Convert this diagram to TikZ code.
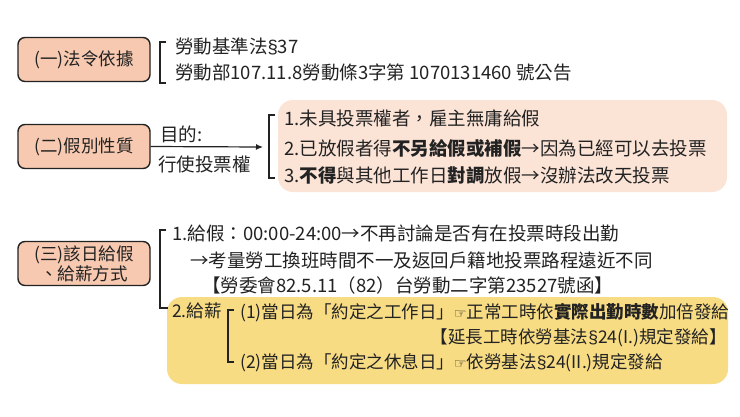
\documentclass[tikz,border=0pt]{standalone}
\usepackage{fontspec}
\setmainfont{Noto Sans CJK TC}
\newfontfamily\symfont{DejaVu Sans}
\newfontfamily\latinfont{Liberation Sans}
\usetikzlibrary{arrows.meta}
\newcommand{\hand}{{\symfont\fontsize{14}{16}\selectfont ☞}}
\newcommand{\sect}{{\latinfont §}}
\begin{document}
\begin{tikzpicture}[x=1pt,y=-1pt,
    txt/.style={anchor=west,inner sep=0pt,text=kText,font=\fontsize{18.5}{21}\selectfont},
    small/.style={txt,font=\fontsize{17.5}{20}\selectfont},
    head/.style={draw=kText,line width=1.4pt,fill=kSalmon,rounded corners=7pt,
      minimum width=132pt,minimum height=44pt,inner sep=0pt,align=center,
      text=kText,font=\fontsize{17.5}{20}\selectfont},
    brk/.style={draw=kText,line width=1.6pt}]
  \definecolor{kText}{HTML}{222222}
  \definecolor{kSalmon}{HTML}{F7C9B0}
  \definecolor{kPale}{HTML}{FBE3D6}
  \definecolor{kYellow}{HTML}{F8DC84}

  \useasboundingbox[fill=white] (0,0) rectangle (740,416);

  % backgrounds
  \fill[kPale,rounded corners=15pt] (278,100) rectangle (727,192);
  \fill[kYellow,rounded corners=15pt] (167,297) rectangle (728,384);

  % headings
  \node[head] (law) at (84,59.5) {(一)法令依據};
  \node[head] (kind) at (84,146.5) {(二)假別性質};
  \node[head] (pay) at (84,263.5) {(三)該日給假\\、給薪方式};

  % (一)
  \draw[brk] (166,42) -- (160,42) -- (160,83) -- (166,83);
  \node[txt] (law1) at (175,46) {勞動基準法\sect37};
  \node[txt] (law2) at (175,72) {勞動部107.11.8勞動條3字第 1070131460 號公告};

  % (二)
  \coordinate (aim) at (263,147);
  \draw[kText,line width=1.2pt,-{Latex[length=7pt,width=6pt]}] (kind.east) -- (aim);
  \node[txt] (aim1) at (160,134) {目的:};
  \node[txt] (aim2) at (158,164) {行使投票權};
  \draw[brk] (275,115) -- (269,115) -- (269,178) -- (275,178);
  \foreach \n/\y/\t in {
      k1/118/{1.未具投票權者，雇主無庸給假},
      k2/148/{2.已放假者得\textbf{不另給假或補假}→因為已經可以去投票},
      k3/176/{3.\textbf{不得}與其他工作日\textbf{對調}放假→沒辦法改天投票}
    }
  {
    \node[txt] (\n) at (284,\y) {\t};
  }

  % (三)
  \draw[brk] (166,230) -- (160,230) -- (160,308) -- (168,308);
  \node[txt] (p1) at (172,233) {1.給假：00:00-24:00→不再討論是否有在投票時段出勤};
  \node[txt] (p2) at (190,260) {→考量勞工換班時間不一及返回戶籍地投票路程遠近不同};
  \node[txt] (p3) at (202,285) {【勞委會82.5.11（82）台勞動二字第23527號函】};
  \node[small] (p4) at (172,311) {2.給薪};
  \draw[brk] (234,310) -- (228,310) -- (228,362) -- (234,362);
  \node[small] (w1) at (240,313) {(1)當日為「約定之工作日」\hand 正常工時依\textbf{實際出勤時數}加倍發給};
  \node[small,anchor=east] (w2) at (727,338) {【延長工時依勞基法\sect24(I.)規定發給】};
  \node[small] (w3) at (240,363) {(2)當日為「約定之休息日」\hand 依勞基法\sect24(II.)規定發給};
\end{tikzpicture}
\end{document}
